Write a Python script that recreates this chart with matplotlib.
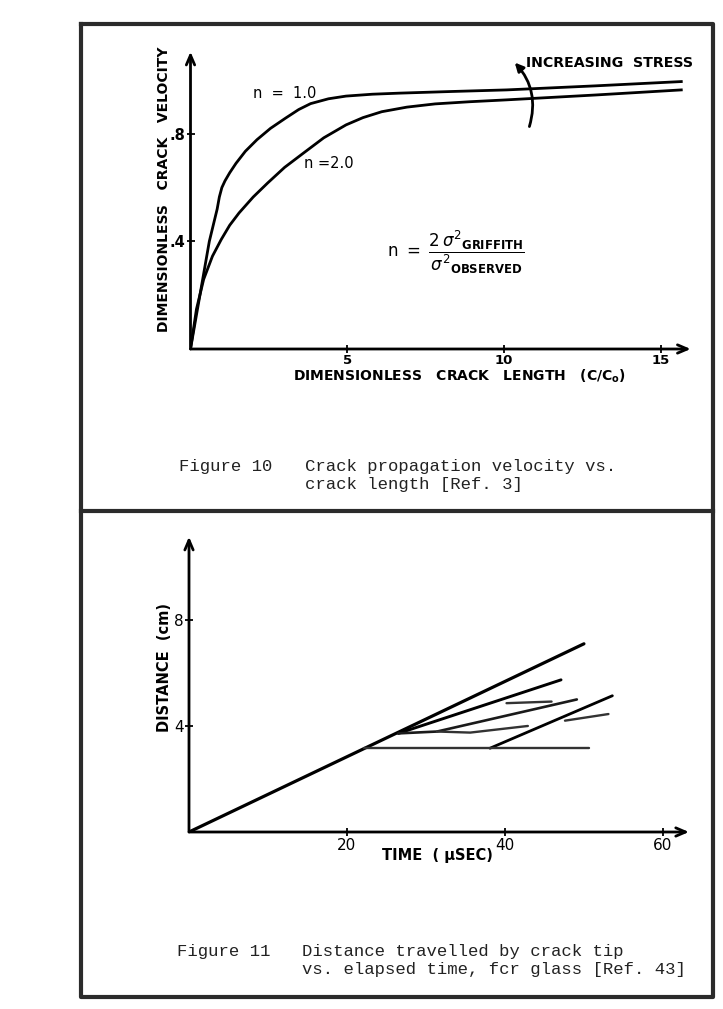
import numpy as np
import matplotlib.pyplot as plt
from matplotlib.lines import Line2D
from matplotlib.patches import FancyArrowPatch

# ---- Figure 10: dimensionless crack velocity vs dimensionless crack length
len_n1 = [0, 0.3, 0.6, 0.85, 0.92, 1.0, 1.1, 1.25, 1.45, 1.75, 2.12, 2.55, 3.03, 3.45, 3.83,
          4.4, 4.96, 5.8, 6.67, 8.3, 10.08, 12.9, 15.65]
vel_n1 = [0, 0.2, 0.4, 0.52, 0.565, 0.6, 0.625, 0.655, 0.69, 0.735, 0.778, 0.82, 0.858, 0.89, 0.912,
          0.93, 0.94, 0.947, 0.951, 0.957, 0.963, 0.978, 0.994]
len_n2 = [0, 0.19, 0.42, 0.7, 0.98, 1.25, 1.55, 2.0, 2.46, 3.0, 3.6, 4.25, 4.96,
          5.5, 6.1, 6.9, 7.8, 8.9, 10.08, 12.9, 15.65]
vel_n2 = [0, 0.148, 0.259, 0.345, 0.407, 0.46, 0.506, 0.565, 0.617, 0.675, 0.728, 0.785, 0.833,
          0.86, 0.882, 0.899, 0.911, 0.919, 0.926, 0.944, 0.963]
f10_xticks = [5, 10, 15]
f10_xlabels = ['5', '10', '15']
f10_yticks = [0.4, 0.8]
f10_ylabels = ['.4', '.8']

# ---- Figure 11: distance travelled by crack tip vs time (glass)
main_t = [0, 50]
main_d = [0, 7.1]
flat_t = [22.2, 50.7]
flat_d = [3.16, 3.16]
upper_t = [26.5, 47.1]
upper_d = [3.72, 5.74]
upper_short_t = [40.2, 45.9]
upper_short_d = [4.86, 4.92]
mid_t = [26.5, 31.4, 49.1]
mid_d = [3.72, 3.79, 5.0]
mid_short_t = [31.4, 35.6, 42.9]
mid_short_d = [3.79, 3.75, 4.0]
low_t = [38.1, 53.6]
low_d = [3.16, 5.14]
low_short_t = [47.6, 53.1]
low_short_d = [4.2, 4.45]
f11_xticks = [20, 40, 60]
f11_xlabels = ['20', '40', '60']
f11_yticks = [4, 8]
f11_ylabels = ['4', '8']

W, H = 723, 1009
LETTER = 'DejaVu Sans'
MONO = 'Liberation Mono'

fig = plt.figure(figsize=(W / 100, H / 100), dpi=100)


def rect(x0, y0, x1, y1):
    # pixel box: x0 left, y0 axis line (bottom), x1 right end, y1 top end
    return [x0 / W, 1 - y0 / H, (x1 - x0) / W, (y0 - y1) / H]


def arrow_axes(ax):
    for s in ax.spines.values():
        s.set_visible(False)
    kw = dict(arrowstyle='->,head_length=0.7,head_width=0.3', lw=2.0, color='k',
              shrinkA=0, shrinkB=0)
    ax.annotate('', xy=(1, 0), xytext=(0, 0), xycoords='axes fraction',
                arrowprops=kw, annotation_clip=False)
    ax.annotate('', xy=(0, 1), xytext=(0, 0), xycoords='axes fraction',
                arrowprops=kw, annotation_clip=False)


# ---------------- Figure 10
ax1 = fig.add_axes(rect(190.5, 349, 690.7, 51.7))
ax1.set_xlim(0, 15.95)
ax1.set_ylim(0, 1.105)
arrow_axes(ax1)
ax1.plot(len_n1, vel_n1, color='k', lw=2.0, solid_joinstyle='round')
ax1.plot(len_n2, vel_n2, color='k', lw=2.0, solid_joinstyle='round')
ax1.set_xticks(f10_xticks)
ax1.set_xticklabels(f10_xlabels)
ax1.set_yticks(f10_yticks)
ax1.set_yticklabels(f10_ylabels)
ax1.tick_params(direction='inout', length=6, width=1.3, pad=0.5)
ax1.tick_params(axis='x', labelsize=9.5)
ax1.tick_params(axis='y', labelsize=10.5)
for lab in ax1.get_xticklabels() + ax1.get_yticklabels():
    lab.set_family(LETTER)
    lab.set_fontweight('bold')

ax1.text(-0.83, 0.595, 'DIMENSIONLESS   CRACK   VELOCITY', rotation=90,
         ha='center', va='center', fontsize=10, fontweight='bold', family=LETTER)
ax1.text(8.57, -0.1, r'DIMENSIONLESS   CRACK   LENGTH   (C/C$_\mathbf{o}$)',
         ha='center', va='center', fontsize=10, fontweight='bold', family=LETTER)
ax1.text(3.0, 0.948, 'n  =  1.0', ha='center', va='center', fontsize=10.5,
         family=LETTER)
ax1.text(4.41, 0.688, 'n =2.0', ha='center', va='center', fontsize=10.5,
         family=LETTER)
ax1.text(10.7, 1.062, 'INCREASING  STRESS', ha='left', va='center', fontsize=10.2,
         fontweight='bold', family=LETTER)
ax1.add_patch(FancyArrowPatch((10.78, 0.817), (10.28, 1.072),
                              connectionstyle='arc3,rad=0.3',
                              arrowstyle='-|>,head_length=5,head_width=2.5',
                              lw=2.0, color='k', clip_on=False))
ax1.text(8.47, 0.36,
         r'$\mathsf{n}\ =\ \dfrac{2\,\sigma^{2}{}_{\mathbf{GRIFFITH}}}{\sigma^{2}{}_{\mathbf{OBSERVED}}}$',
         ha='center', va='center', fontsize=12)

# ---------------- Figure 11
ax2 = fig.add_axes(rect(189, 832, 689, 536.7))
ax2.set_xlim(0, 63.3)
ax2.set_ylim(0, 11.14)
arrow_axes(ax2)
ax2.plot(main_t, main_d, color='k', lw=2.3, solid_capstyle='round')
ax2.plot(upper_t, upper_d, color='k', lw=2.1, solid_capstyle='round')
ax2.plot(mid_t, mid_d, color='#1a1a1a', lw=1.9, solid_capstyle='round')
ax2.plot(low_t, low_d, color='k', lw=2.0, solid_capstyle='round')
for t, d in [(flat_t, flat_d), (upper_short_t, upper_short_d),
             (mid_short_t, mid_short_d), (low_short_t, low_short_d)]:
    ax2.plot(t, d, color='#333333', lw=1.7, solid_capstyle='round')
ax2.set_xticks(f11_xticks)
ax2.set_xticklabels(f11_xlabels)
ax2.set_yticks(f11_yticks)
ax2.set_yticklabels(f11_ylabels)
ax2.tick_params(direction='inout', length=6, width=1.3, pad=1, labelsize=11)
for lab in ax2.get_xticklabels() + ax2.get_yticklabels():
    lab.set_family(LETTER)

ax2.text(-3.1, 6.19, 'DISTANCE  (cm)', rotation=90, ha='center', va='center',
         fontsize=10.5, fontweight='bold', family=LETTER)
ax2.text(31.4, -0.9, 'TIME  ( \u00b5SEC)', ha='center', va='center', fontsize=10.5,
         fontweight='bold', family=LETTER)

# ---------------- page frame and captions
frame_kw = dict(transform=fig.transFigure, color='#2b2b2b', lw=3)
fx = [81 / W, 713 / W, 713 / W, 81 / W, 81 / W]
fy = [1 - 24 / H, 1 - 24 / H, 1 - 997 / H, 1 - 997 / H, 1 - 24 / H]
fig.add_artist(Line2D(fx, fy, **frame_kw))
fig.add_artist(Line2D([81 / W, 713 / W], [1 - 511 / H, 1 - 511 / H], **frame_kw))

cap_kw = dict(family=MONO, fontsize=12.4, va='baseline', color='#222222')
fig.text(178.6 / W, 1 - 471 / H, 'Figure 10', **cap_kw)
fig.text(305 / W, 1 - 471 / H, 'Crack propagation velocity vs.', **cap_kw)
fig.text(305 / W, 1 - 489 / H, 'crack length [Ref. 3]', **cap_kw)
fig.text(176.8 / W, 1 - 956 / H, 'Figure 11', **cap_kw)
fig.text(301.7 / W, 1 - 956 / H, 'Distance travelled by crack tip', **cap_kw)
fig.text(301.7 / W, 1 - 974 / H, 'vs. elapsed time, fcr glass [Ref. 43]', **cap_kw)

fig.savefig('out.png', dpi=100)
